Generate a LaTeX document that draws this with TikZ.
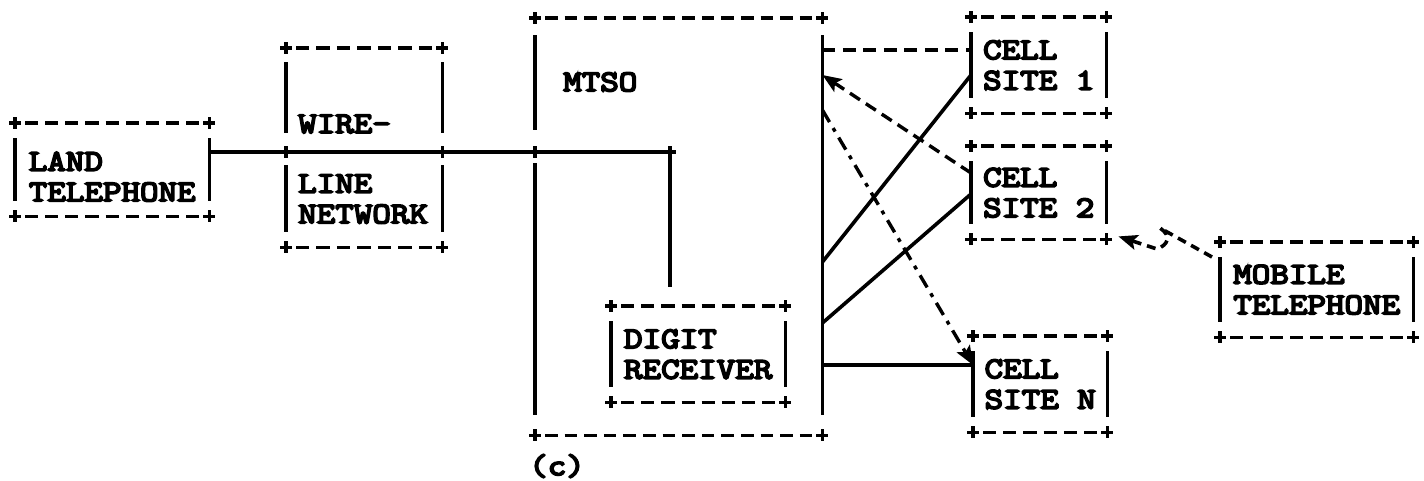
\documentclass[tikz,border=0pt]{standalone}
\usepackage{fontspec}
\newfontfamily\typew{Latin Modern Mono}[FakeStretch=1.2, FakeBold=6]
\usetikzlibrary{arrows.meta,calc}
\newdimen\bxA \newdimen\bxB
\newcommand{\asciiframe}[1]{%
  \pgfextractx{\bxA}{\pgfpointanchor{#1}{west}}%
  \pgfextractx{\bxB}{\pgfpointanchor{#1}{east}}%
  \pgfmathsetmacro\edgeL{\bxB-\bxA-20}%
  \pgfmathsetmacro\edgeN{max(1,round((\edgeL+7)/19.5))}%
  \pgfmathsetmacro\edgeD{(\edgeL-7*(\edgeN-1))/\edgeN}%
  \draw[dline, dash pattern=on \edgeD pt off 7pt] ($(#1.north west)+(10,0)$) -- ($(#1.north east)+(-10,0)$);
  \draw[dline, dash pattern=on \edgeD pt off 7pt] ($(#1.south west)+(10,0)$) -- ($(#1.south east)+(-10,0)$);
  \foreach \cor in {north west,north east,south west,south east}{%
    \draw[plusm] (#1.\cor) +(-6,0) -- +(6,0) +(0,-6) -- +(0,6);}%
}
\newcommand{\asciisides}[1]{%
  \draw[sline] ($(#1.north west)+(0,15)$) -- ($(#1.south west)+(0,-15)$);
  \draw[sline] ($(#1.north east)+(0,15)$) -- ($(#1.south east)+(0,-15)$);
}
\begin{document}
\begin{tikzpicture}[x=1pt,y=-1pt,
  sline/.style={line width=3.6pt},
  dline/.style={line width=3.4pt, dash pattern=on 12pt off 7pt},
  ddot/.style={line width=3.4pt, dash pattern=on 14pt off 7pt on 4pt off 7pt},
  zline/.style={line width=3.6pt, dash pattern=on 9pt off 6pt},
  plusm/.style={line width=3.2pt},
  txt/.style={inner sep=0pt, align=left, font=\typew\fontsize{30}{30.5}\selectfont},
  tbox/.style={txt, anchor=north west},
  arr/.style={-{Stealth[length=19pt,width=15pt,inset=4pt]}},
]
\useasboundingbox (0,0) rectangle (1424,480);

% boxes
\node[tbox, minimum width=194, minimum height=93, text depth=0pt] (LT) at (15,123) {\raisebox{4pt}{\begin{tabular}{@{}l@{}}LAND\\TELEPHONE\end{tabular}}};
\node[tbox, minimum width=156, minimum height=199] (WL) at (286,48) {};
\node[txt, anchor=west] (wl1) at ($(WL.north west)+(12,76)$) {WIRE-};
\node[txt, anchor=west] (wl2) at ($(WL.north west)+(12,151)$) {LINE\\NETWORK};
\node[tbox, minimum width=287, minimum height=417] (MTSO) at (535,18) {};
\node[txt, anchor=west] (mtsol) at ($(MTSO.north west)+(28,64)$) {MTSO};
\node[tbox, minimum width=174, minimum height=96] (DR) at (611,306) {DIGIT\\RECEIVER};
\node[tbox, minimum width=135, minimum height=96] (CS1) at (971,17) {CELL\\SITE 1};
\node[tbox, minimum width=135, minimum height=93] (CS2) at (971,146) {CELL\\SITE 2};
\node[tbox, minimum width=134, minimum height=96] (CSN) at (973,336) {CELL\\SITE N};
\node[tbox, minimum width=193, minimum height=95] (MT) at (1220,242) {MOBILE\\TELEPHONE};
\node[txt] (cap) at (557,466) {(c)};

\asciiframe{LT}\asciisides{LT}
\asciiframe{WL}
\asciiframe{MTSO}
\asciiframe{DR}\asciisides{DR}
\asciiframe{CS1}\asciisides{CS1}
\asciiframe{CS2}\asciisides{CS2}
\asciiframe{CSN}\asciisides{CSN}
\asciiframe{MT}\asciisides{MT}

% main wire line
\coordinate (J) at (670,152);
\draw[sline] (LT.east |- J) -- (J) -- ($(J |- DR.north)+(0,-19)$);
\foreach \p in {WL.west, WL.east, MTSO.west}{%
  \draw[plusm] (\p |- J) +(-6,0) -- +(6,0) +(0,-6) -- +(0,6);}
\draw[plusm] (J) +(-6,0) -- +(6,0) +(0,-6) -- +(0,6);

% broken sides
\draw[sline] ($(WL.north west)+(0,14)$) -- ($(WL.west |- J)+(0,-19)$);
\draw[sline] ($(WL.west |- J)+(0,13)$) -- ($(WL.south west)+(0,-15)$);
\draw[sline] ($(WL.north east)+(0,14)$) -- ($(WL.east |- J)+(0,-19)$);
\draw[sline] ($(WL.east |- J)+(0,13)$) -- ($(WL.south east)+(0,-15)$);
\draw[sline] ($(MTSO.north west)+(0,17)$) -- ($(MTSO.west |- J)+(0,-22)$);
\draw[sline] ($(MTSO.west |- J)+(0,11)$) -- ($(MTSO.south west)+(0,-20)$);
\draw[sline] ($(MTSO.north east)+(0,17)$) -- ($(MTSO.south east)+(0,-20)$);

% MTSO to cell sites
\draw[dline, dash pattern=on 13pt off 7.5pt] ($(MTSO.north east)+(0,32)$) -- ($(CS1.north west)+(0,33)$);
\draw[dline, arr] ($(CS2.north west)+(0,27)$) -- ($(MTSO.north east)+(0,57)$);
\draw[ddot, arr] ($(MTSO.north east)+(0,92)$) -- ($(CSN.north west)+(0,29)$);
\draw[sline] ($(MTSO.north east)+(0,244)$) -- ($(CS1.north west)+(0,58)$);
\draw[sline] ($(MTSO.north east)+(0,305)$) -- ($(CS2.north west)+(0,48)$);
\draw[sline] ($(MTSO.north east)+(0,347)$) -- ($(CSN.north west)+(0,29)$);

% radio link
\coordinate (rz) at ($(MT.north west)+(-8,15)$);
\draw[zline, arr] (rz) -- (1160,228) .. controls (1172,236) and (1168,245) .. (1157,249) -- ($(CS2.south east)+(12,-3)$);
\end{tikzpicture}
\end{document}
